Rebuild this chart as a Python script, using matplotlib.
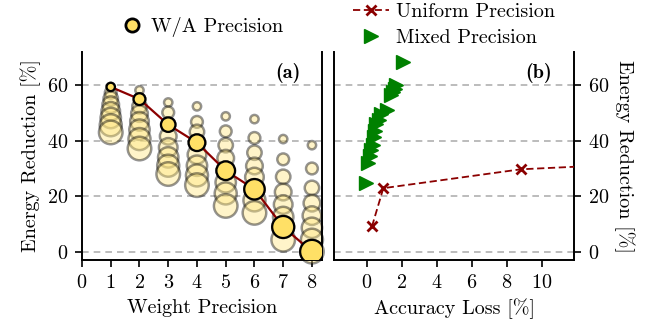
import numpy as np
import matplotlib
matplotlib.use("Agg")
import matplotlib.pyplot as plt
from matplotlib.lines import Line2D

plt.rcParams['font.family'] = ['cmr10', 'DejaVu Serif']
plt.rcParams['axes.formatter.use_mathtext'] = True
FS = 14.5
plt.rcParams['font.size'] = FS

# ---- data ----
weight_bits = [1, 2, 3, 4, 5, 6, 7, 8]
act_bits = [1, 2, 3, 4, 5, 6, 7, 8]
# energy reduction [%] for each weight precision (rows) x activation precision (cols)
energy_grid = [
    [59.4, 57.3, 55.2, 53.0, 50.6, 48.2, 45.6, 43.0],
    [58.2, 55.0, 52.4, 49.8, 47.0, 44.0, 40.6, 37.2],
    [53.8, 50.2, 45.8, 41.6, 37.6, 34.0, 31.0, 28.0],
    [52.4, 46.8, 43.2, 39.3, 35.0, 31.0, 27.5, 24.0],
    [48.8, 43.4, 38.4, 33.7, 29.2, 25.0, 21.0, 16.5],
    [47.8, 41.0, 35.7, 30.9, 26.9, 22.5, 18.5, 14.0],
    [40.6, 33.3, 27.0, 21.5, 17.0, 12.5, 8.9, 4.3],
    [38.4, 30.0, 23.0, 17.5, 13.0, 8.6, 4.3, 0.0],
]

uniform_loss = [0.3, 0.95, 8.8, 41.0]
uniform_energy = [9.1, 22.9, 29.7, 39.3]

mixed_loss = [-0.05, 0.1, 0.2, 0.25, 0.35, 0.4, 0.5, 0.55, 0.7, 0.8, 1.15, 1.4, 1.5, 1.6, 1.7, 2.1]
mixed_energy = [24.8, 31.8, 34.5, 36.5, 38.5, 41.5, 43.5, 46.0, 47.5, 49.5, 51.0, 56.5, 57.5, 58.5, 60.0, 68.3]

yticks = [0, 20, 40, 60]
xticks_a = [0, 1, 2, 3, 4, 5, 6, 7, 8]
xticks_b = [0, 2, 4, 6, 8, 10]

# ---- styling ----
yellow = '#FFE066'
light_yellow = '#FFE680'
darkred = '#8B0000'
green = '#008000'
size_unit = 36

W, H = 664, 331
fig = plt.figure(figsize=(W / 100, H / 100), dpi=100)
axa = fig.add_axes([82 / W, 1 - 260 / H, 240 / W, 208 / H])
axb = fig.add_axes([334 / W, 1 - 260 / H, 240 / W, 208 / H])

for ax in (axa, axb):
    ax.set_ylim(-3, 72)
    ax.set_yticks(yticks)
    for y in yticks:
        ax.axhline(y, color='#b0b0b0', ls=(0, (4, 3)), lw=1.2, zorder=0)
    ax.spines['top'].set_visible(False)
    for s in ('left', 'right', 'bottom'):
        ax.spines[s].set_linewidth(1.4)
    ax.tick_params(direction='out', length=5, width=1.2, labelsize=FS, pad=5)

# panel (a)
for i, w in enumerate(weight_bits):
    xs = [w] * len(act_bits)
    sizes = [size_unit * a for a in act_bits]
    axa.scatter(xs, energy_grid[i], s=sizes, facecolor=light_yellow, edgecolor='black',
                alpha=0.42, linewidths=1.8, zorder=2, clip_on=False)
diag = [energy_grid[i][i] for i in range(len(weight_bits))]
axa.plot(weight_bits, diag, color=darkred, lw=1.6, zorder=3)
axa.scatter(weight_bits, diag, s=[size_unit * a for a in weight_bits], facecolor=yellow,
            edgecolor='black', linewidths=1.6, zorder=4, clip_on=True)
axa.set_xlim(0, 8.35)
axa.set_xticks(xticks_a)
axa.set_xlabel('Weight Precision', labelpad=5)
axa.set_ylabel('Energy Reduction [%]', labelpad=4)
axa.text(0.91, 0.9, '(a)', transform=axa.transAxes, ha='right', va='center',
         fontfamily='cmb10', fontsize=FS)

# panel (b)
axb.plot(uniform_loss, uniform_energy, color=darkred, ls=(0, (4, 2)), lw=1.3,
         marker='x', ms=7, mew=2.0, zorder=3)
axb.plot(mixed_loss, mixed_energy, ls='none', marker='>', ms=10, color=green,
         mec=green, zorder=4, clip_on=False)
axb.set_xlim(-1.87, 11.85)
axb.set_xticks(xticks_b)
axb.yaxis.tick_right()
axb.yaxis.set_label_position('right')
axb.spines['right'].set_visible(True)
axb.set_xlabel('Accuracy Loss [%]', labelpad=5)
axb.set_ylabel('Energy Reduction [%]', rotation=-90, labelpad=18)
axb.text(0.91, 0.9, '(b)', transform=axb.transAxes, ha='right', va='center',
         fontfamily='cmb10', fontsize=FS)

# legends
h_wa = Line2D([], [], ls='none', marker='o', ms=9.5, mfc=yellow, mec='black', mew=2)
fig.legend([h_wa], ['W/A Precision'], loc='center left', bbox_to_anchor=(112 / W, 1 - 27 / H),
           frameon=False, fontsize=FS, handlelength=1.0, handletextpad=0.45, borderpad=0)
h_u = Line2D([], [], color=darkred, ls=(0, (4, 2)), lw=1.3, marker='x', ms=7, mew=2.0)
h_m = Line2D([], [], ls='none', marker='>', ms=10, color=green)
fig.legend([h_u, h_m], ['Uniform Precision', 'Mixed Precision'], loc='center left',
           bbox_to_anchor=(343 / W, 1 - 25 / H), frameon=False, fontsize=FS,
           handlelength=1.8, handletextpad=0.35, borderpad=0, labelspacing=0.4)

fig.savefig('out.png', dpi=100)
